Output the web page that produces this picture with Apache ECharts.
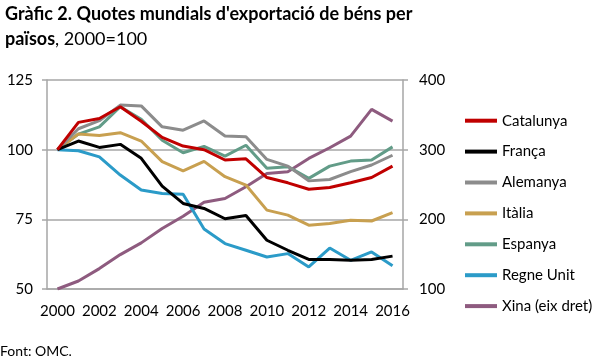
<!DOCTYPE html>
<html><head><meta charset="utf-8">
<script src="https://cdn.jsdelivr.net/npm/echarts@6/dist/echarts.min.js"></script>
<style>html,body{margin:0;padding:0;background:#fff}#c{width:600px;height:362px}</style>
</head><body><div id="c"></div>
<script>
const years = ['2000','2001','2002','2003','2004','2005','2006','2007','2008','2009','2010','2011','2012','2013','2014','2015','2016'];
const catalunya = [100,109.8,111.2,115.4,110.2,104.4,101.3,100.0,96.3,96.7,90.0,88.1,85.8,86.4,88.1,90.0,94.1];
const franca    = [100,103.1,100.8,101.9,96.9,86.9,80.7,78.9,75.2,76.4,67.5,63.9,60.6,60.6,60.3,60.6,61.8];
const alemanya  = [100,107.5,110.4,116.0,115.7,108.2,107.0,110.3,104.9,104.6,96.5,94.1,88.8,89.3,92.1,94.5,98.0];
const italia    = [100,105.6,105.1,106.1,103.1,95.7,92.4,95.8,90.3,87.3,78.3,76.5,72.9,73.5,74.7,74.4,77.4];
const espanya   = [100,105.6,108.2,115.4,110.9,103.4,98.9,101.2,97.7,101.6,93.3,93.9,89.7,94.1,95.9,96.3,101.0];
const regneUnit = [100,99.6,97.4,90.9,85.5,84.3,84.0,71.5,66.3,63.9,61.5,62.7,57.9,64.7,60.3,63.3,58.3];
const xina      = [100,111.5,129.3,149.4,166.2,186.8,204.5,224.5,229.9,246.7,265.8,268.2,287.4,302.7,319.5,357.8,341.0];
const names = ['Catalunya','França','Alemanya','Itàlia','Espanya','Regne Unit','Xina (eix dret)'];
const colors = ['#C00000','#000000','#8C8C8C','#C8A050','#629C88','#2B9BC8','#8E5B7F'];
const seriesData = [catalunya, franca, alemanya, italia, espanya, regneUnit, xina];

const chart = echarts.init(document.getElementById('c'), null, {renderer:'canvas'});
const FONT = 'Lato';
chart.setOption({
  animation:false,
  backgroundColor:'#fff',
  title:{
    left:0, top:-3,
    text:'{b|Gràfic 2. Quotes mundials d\'exportació de béns per}\n{b|països}{r|, 2000=100}',
    textStyle:{
      rich:{
        b:{fontFamily:FONT,fontWeight:'bold',fontSize:18,color:'#000',lineHeight:25},
        r:{fontFamily:FONT,fontWeight:'normal',fontSize:18,color:'#000',lineHeight:25}
      }
    }
  },
  graphic:[{type:'text',left:0,top:344,style:{text:'Font: OMC.',font:'14px '+FONT,fill:'#000'}}],
  legend:{
    orient:'vertical', left:465, top:110.7, padding:0,
    itemWidth:32, itemHeight:4, itemGap:10.9, icon:'rect',
    textStyle:{fontFamily:FONT,fontSize:15,color:'#000',lineHeight:20},
    data:names
  },
  grid:{left:47,right:197,top:80,bottom:73,containLabel:false},
  xAxis:{
    type:'category', data:years, boundaryGap:true,
    axisLine:{lineStyle:{color:'#A6A6A6',width:1.5}},
    axisTick:{show:false},
    axisLabel:{interval:1,fontFamily:FONT,fontSize:15,color:'#000',margin:15}
  },
  yAxis:[
    {type:'value',min:50,max:125,interval:25,position:'left',
     axisLine:{show:true,lineStyle:{color:'#A6A6A6',width:1.5}},
     axisTick:{show:true,length:5,lineStyle:{color:'#A6A6A6',width:1.5}},
     splitLine:{lineStyle:{color:'#A6A6A6',width:1.5}},
     axisLabel:{fontFamily:FONT,fontSize:15,color:'#000',margin:14}},
    {type:'value',min:100,max:400,interval:100,position:'right',
     axisLine:{show:true,lineStyle:{color:'#A6A6A6',width:1.5}},
     axisTick:{show:true,length:5,lineStyle:{color:'#A6A6A6',width:1.5}},
     splitLine:{show:false},
     axisLabel:{fontFamily:FONT,fontSize:15,color:'#000',margin:16}}
  ],
  series: seriesData.map((d,i)=>({
    name:names[i], type:'line', data:d, yAxisIndex: i===6?1:0,
    symbol:'none', smooth:false,
    lineStyle:{width:3,color:colors[i]}, itemStyle:{color:colors[i]},
    z: 10 - i
  }))
});
</script></body></html>
